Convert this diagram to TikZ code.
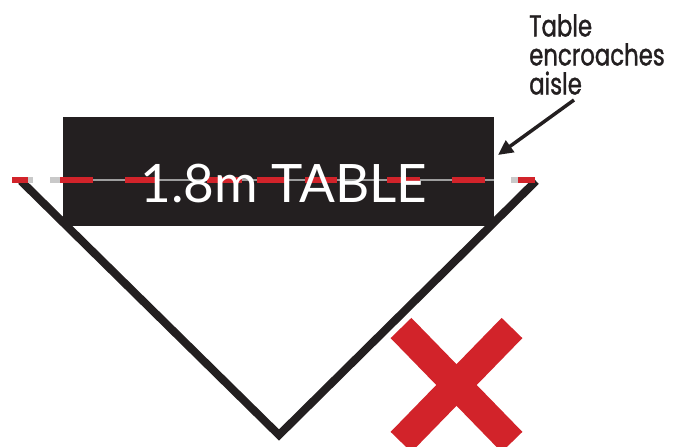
\documentclass[tikz,border=0pt]{standalone}
\usepackage{fontspec}
\usetikzlibrary{arrows.meta}
\newfontfamily\tablefont{Lato}
\newfontfamily\notefont[FakeStretch=0.76,FakeBold=1.2]{Poppins}
\definecolor{tabledark}{HTML}{231F20}
\definecolor{crossred}{HTML}{D2232A}
\definecolor{edgegrey}{HTML}{9E9E9E}
\definecolor{lightgrey}{HTML}{C9C9C9}
\begin{document}
\begin{tikzpicture}[x=1pt,y=-1pt,
    redseg/.style={crossred, line width=6pt},
    greyseg/.style={lightgrey, line width=6pt}]
      \useasboundingbox (0,0) rectangle (681,447);

      % aisle
      \draw[tabledark, line width=8pt] (21,181) -- (279,435) -- (536,181);

      % table
      \node[fill=tabledark, minimum width=431pt, minimum height=109pt, inner sep=0pt] (table) at (278.5,171.5) {};
      \draw[edgegrey, line width=1.4pt] (table.west |- 0,180) -- (table.east |- 0,180);
      \draw[greyseg] (22,180) -- (33,180);
      \draw[greyseg] (50,180) -- (62,180);
      \draw[greyseg] (511,180) -- (521,180);
      \foreach \a/\b in {12/28,60/93,125/158,207/242,257/288,305/337,387/420,452/485,518/535}
        \draw[redseg] (\a,180) -- (\b,180);
      \node[text=white, font=\tablefont\fontsize{53}{53}\selectfont, inner sep=0pt, anchor=base] (label) at (284,202) {1.8m TABLE};

      % note
      \node[anchor=north west, align=left, inner sep=0pt, text=tabledark, font=\notefont\fontsize{30}{29}\selectfont] (note) at (529,14) {Table\\encroaches\\aisle};
      \coordinate (tail) at (574,100);
      \coordinate (tip) at (498,155);
      \draw[tabledark, line width=3.5pt, -{Triangle[length=15pt,width=14pt]}] (tail) -- (tip);

      % cross
      \draw[crossred, line width=29pt] (401,328) -- (512,442);
      \draw[crossred, line width=29pt] (512,328) -- (401,442);
    \end{tikzpicture}
\end{document}
